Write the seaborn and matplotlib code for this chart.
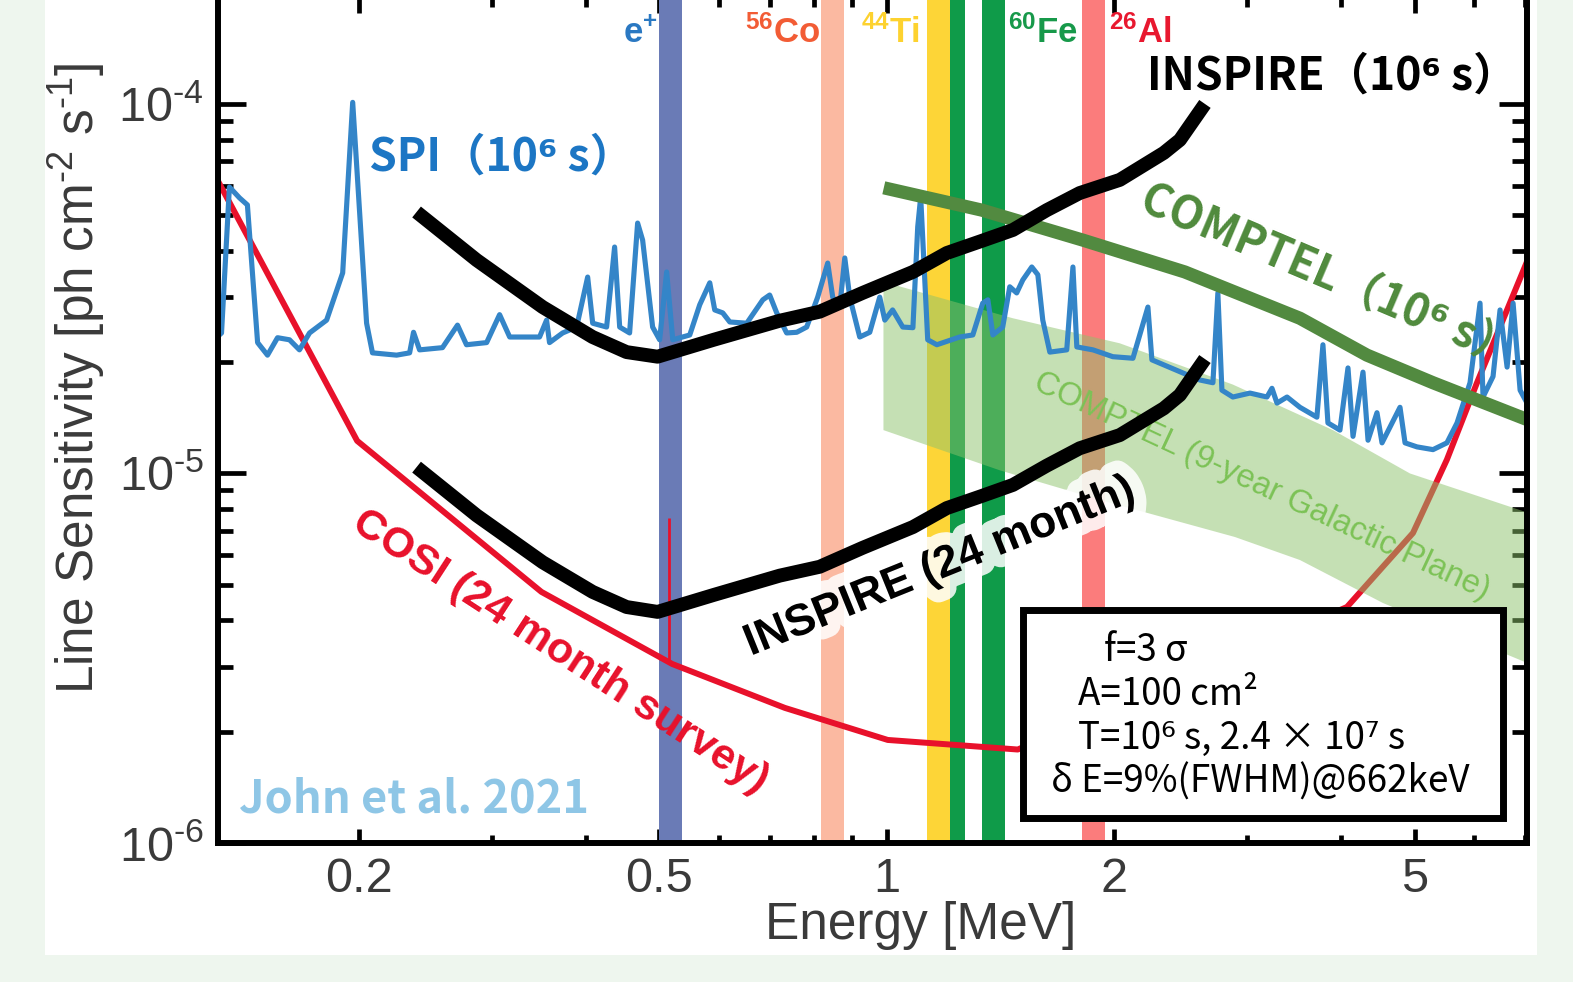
import numpy as np
import pandas as pd
import seaborn as sns
import matplotlib.pyplot as plt
import matplotlib.patheffects as pe
from matplotlib.patches import Rectangle
from matplotlib.ticker import FixedLocator, LogLocator, NullFormatter, FuncFormatter

# ---------------------------------------------------------------
# data: energy [MeV], line sensitivity [ph cm^-2 s^-1]
# ---------------------------------------------------------------
spi_energy = [
    0.1296, 0.1316, 0.1348, 0.139, 0.1424, 0.1469, 0.1514, 0.1561, 0.1619, 0.1669,
    0.1721, 0.1813, 0.1904, 0.1963, 0.2048, 0.2085, 0.2244, 0.2335, 0.2363, 0.2407,
    0.2581, 0.2702, 0.2777, 0.2953, 0.3072, 0.3168, 0.347, 0.3545, 0.3577, 0.3723,
    0.3885, 0.4018, 0.408, 0.4257, 0.4362, 0.443, 0.4566, 0.4679, 0.4751, 0.4898,
    0.5004, 0.5112, 0.5208, 0.5369, 0.5485, 0.5654, 0.583, 0.5919, 0.6065, 0.6197,
    0.6526, 0.6853, 0.6998, 0.715, 0.737, 0.76, 0.7834, 0.8101, 0.8353, 0.8481,
    0.8664, 0.8799, 0.8933, 0.9209, 0.9495, 0.9788, 0.994, 1.018, 1.05, 1.083,
    1.099, 1.109, 1.123, 1.133, 1.165, 1.249, 1.30, 1.34, 1.361, 1.382,
    1.424, 1.455, 1.486, 1.514, 1.556, 1.585, 1.609, 1.644, 1.731, 1.764,
    1.785, 1.875, 1.992, 2.118, 2.217, 2.244, 2.467, 2.598, 2.703, 2.744,
    2.778, 2.872, 3.026, 3.187, 3.236, 3.286, 3.388, 3.524, 3.711, 3.78,
    3.838, 3.981, 4.08, 4.143, 4.271, 4.337, 4.457, 4.526, 4.781, 4.855,
    5.035, 5.287, 5.516, 5.689, 5.919, 6.102, 6.158, 6.349, 6.486, 6.627,
    6.749, 6.895, 7.043]
spi_sens = [
    2.33e-5, 2.40e-5, 5.96e-5, 5.57e-5, 5.33e-5, 2.26e-5, 2.09e-5, 2.33e-5, 2.30e-5, 2.16e-5,
    2.40e-5, 2.60e-5, 3.49e-5, 1.01e-4, 2.55e-5, 2.12e-5, 2.09e-5, 2.12e-5, 2.41e-5, 2.16e-5,
    2.19e-5, 2.52e-5, 2.23e-5, 2.26e-5, 2.69e-5, 2.34e-5, 2.34e-5, 2.60e-5, 2.26e-5, 2.40e-5,
    2.49e-5, 3.40e-5, 2.55e-5, 2.49e-5, 4.10e-5, 2.49e-5, 2.40e-5, 4.76e-5, 4.28e-5, 2.49e-5,
    2.30e-5, 3.51e-5, 2.30e-5, 2.34e-5, 2.37e-5, 2.86e-5, 3.28e-5, 2.77e-5, 2.72e-5, 2.57e-5,
    2.55e-5, 2.95e-5, 3.04e-5, 2.72e-5, 2.40e-5, 2.41e-5, 2.49e-5, 3.00e-5, 3.71e-5, 3.00e-5,
    2.82e-5, 3.83e-5, 3.00e-5, 2.34e-5, 2.41e-5, 3.00e-5, 2.60e-5, 2.77e-5, 2.49e-5, 2.48e-5,
    4.65e-5, 5.60e-5, 3.34e-5, 2.30e-5, 2.23e-5, 2.34e-5, 2.37e-5, 2.89e-5, 2.95e-5, 2.37e-5,
    2.49e-5, 3.20e-5, 3.08e-5, 3.34e-5, 3.62e-5, 3.45e-5, 2.60e-5, 2.13e-5, 2.16e-5, 3.62e-5,
    2.20e-5, 2.16e-5, 2.07e-5, 2.05e-5, 2.82e-5, 2.03e-5, 1.87e-5, 1.79e-5, 1.76e-5, 3.08e-5,
    1.68e-5, 1.61e-5, 1.65e-5, 1.61e-5, 1.70e-5, 1.55e-5, 1.61e-5, 1.51e-5, 1.42e-5, 2.23e-5,
    1.37e-5, 1.31e-5, 1.93e-5, 1.26e-5, 1.88e-5, 1.23e-5, 1.46e-5, 1.21e-5, 1.51e-5, 1.21e-5,
    1.18e-5, 1.16e-5, 1.21e-5, 1.37e-5, 1.76e-5, 2.89e-5, 1.61e-5, 1.83e-5, 2.77e-5, 1.94e-5,
    2.89e-5, 1.68e-5, 1.55e-5]

cosi_energy = [0.128, 0.199, 0.349, 0.52, 0.733, 1.003, 1.491, 4.067, 4.974, 5.516, 6.046, 7.10]
cosi_sens = [6.6e-5, 1.225e-5, 4.78e-6, 3.05e-6, 2.32e-6, 1.90e-6, 1.79e-6,
             4.35e-6, 6.90e-6, 1.09e-5, 1.76e-5, 3.9e-5]
cosi_511_energy = 0.515
cosi_511_range = [3.05e-6, 7.58e-6]

inspire_energy = [0.2385, 0.2864, 0.3503, 0.4079, 0.4524, 0.4972, 0.590, 0.7216, 0.815, 0.929,
                  1.083, 1.201, 1.336, 1.469, 1.629, 1.801, 2.035, 2.327, 2.444, 2.638]
inspire_1e6s = [5.10e-5, 3.78e-5, 2.82e-5, 2.34e-5, 2.13e-5, 2.07e-5, 2.30e-5, 2.59e-5, 2.74e-5, 3.08e-5,
                3.51e-5, 3.95e-5, 4.26e-5, 4.56e-5, 5.16e-5, 5.74e-5, 6.23e-5, 7.37e-5, 7.99e-5, 1.0e-4]
inspire_24mo = [1.04e-5, 7.7e-6, 5.75e-6, 4.78e-6, 4.35e-6, 4.22e-6, 4.69e-6, 5.29e-6, 5.59e-6, 6.29e-6,
                7.16e-6, 8.06e-6, 8.69e-6, 9.31e-6, 1.05e-5, 1.17e-5, 1.27e-5, 1.50e-5, 1.63e-5, 2.04e-5]

comptel_energy = [0.991, 1.336, 1.818, 2.481, 3.524, 4.323, 5.287, 7.10]
comptel_sens = [5.93e-5, 5.16e-5, 4.28e-5, 3.51e-5, 2.63e-5, 2.09e-5, 1.76e-5, 1.39e-5]

gp_top_energy = [0.99, 1.469, 2.035, 2.872, 3.897, 4.928, 7.10]
gp_top_sens = [3.30e-5, 2.63e-5, 2.25e-5, 1.74e-5, 1.31e-5, 1.00e-5, 7.8e-6]
gp_bot_energy = [0.99, 1.411, 1.915, 2.890, 3.524, 4.539, 7.10]
gp_bot_sens = [1.31e-5, 1.02e-5, 8.48e-6, 6.73e-6, 5.83e-6, 4.46e-6, 3.05e-6]

line_names = ['e$^{\\mathdefault{+}}$', '$^{\\mathdefault{56}}$Co', '$^{\\mathdefault{44}}$Ti',
              '$^{\\mathdefault{60}}$Fe', '$^{\\mathdefault{26}}$Al']
line_lo = [0.500, 0.818, 1.130, 1.212, 1.336, 1.813]
line_hi = [0.535, 0.877, 1.212, 1.268, 1.433, 1.944]
line_colors = ['#6a7bb6', '#fbb9a1', '#fdd537', '#0f9b49', '#0f9b49', '#fb7c7c']

x_major = [0.2, 0.5, 1, 2, 5]

# ---------------------------------------------------------------
# style
# ---------------------------------------------------------------
sns.set_theme(style='ticks')
plt.rcParams['font.family'] = ['Liberation Sans', 'DejaVu Sans']
plt.rcParams['mathtext.fontset'] = 'custom'
plt.rcParams['mathtext.rm'] = 'Liberation Sans'
plt.rcParams['mathtext.it'] = 'Liberation Sans:italic'
plt.rcParams['mathtext.bf'] = 'Liberation Sans:bold'
plt.rcParams['axes.unicode_minus'] = False

CJK = ['Noto Sans CJK JP', 'DejaVu Sans']
ARIAL = ['Liberation Sans', 'DejaVu Sans']
GREY = '#3a3a3a'
HY = '\u2010'  # short hyphen as used in the original exponents

fig = plt.figure(figsize=(15.73, 9.82), dpi=100, facecolor='#eef6ee')
fig.patches.append(Rectangle((0.0286, 0.0275), 0.9485, 0.98, transform=fig.transFigure,
                             facecolor='white', edgecolor='none', zorder=-5))
ax = fig.add_axes([0.1386, 0.1416, 0.8322, 0.8595])
ax.set_zorder(2)
ax.set_xscale('log')
ax.set_yscale('log')
ax.set_facecolor('white')

# isotope line bands
for lo, hi, c in zip(line_lo, line_hi, line_colors):
    ax.axvspan(lo, hi, color=c, lw=0, zorder=1)

# COSI
sns.lineplot(x=cosi_energy, y=cosi_sens, ax=ax, color='#e8112b', linewidth=4.3,
             estimator=None, sort=False, zorder=2, solid_joinstyle='round')
ax.vlines(cosi_511_energy, cosi_511_range[0], cosi_511_range[1], color='#e8112b', lw=2.0, zorder=2)

# COMPTEL galactic plane band
ax.fill(list(gp_top_energy) + list(gp_bot_energy[::-1]),
        list(gp_top_sens) + list(gp_bot_sens[::-1]),
        color='#8cc26b', alpha=0.5, lw=0, zorder=3)

# SPI
sns.lineplot(x=spi_energy, y=spi_sens, ax=ax, color='#3485c8', linewidth=3.7,
             estimator=None, sort=False, zorder=4, solid_joinstyle='round')

# COMPTEL 1e6 s
sns.lineplot(x=comptel_energy, y=comptel_sens, ax=ax, color='#528a40', linewidth=9.5,
             estimator=None, sort=False, zorder=5, solid_capstyle='butt', solid_joinstyle='round')

# INSPIRE
for sens in (inspire_1e6s, inspire_24mo):
    sns.lineplot(x=inspire_energy, y=sens, ax=ax, color='black', linewidth=10,
                 estimator=None, sort=False, zorder=6, solid_capstyle='butt', solid_joinstyle='round')

ax.set_xlim(0.1302, 7.043)
ax.set_ylim(1.0e-6, 1.924e-4)

# axes / ticks
for s in ax.spines.values():
    s.set_linewidth(4.3)
    s.set_color('black')
    s.set_zorder(10)
ax.xaxis.set_major_locator(FixedLocator(x_major))
ax.xaxis.set_major_formatter(FuncFormatter(lambda v, p: f'{v:g}'))
ax.xaxis.set_minor_locator(LogLocator(base=10, subs=np.arange(2, 10)))
ax.xaxis.set_minor_formatter(NullFormatter())
ax.yaxis.set_major_formatter(FuncFormatter(
    lambda v, p: '10$^{\\mathdefault{' + HY + str(int(round(-np.log10(v)))) + '}}$'))
ax.yaxis.set_minor_formatter(NullFormatter())
ax.tick_params(which='both', direction='in', top=True, right=True, width=3.4,
               color='black', labelcolor=GREY, labelsize=35)
ax.tick_params(axis='x', which='major', length=10, pad=10)
ax.tick_params(axis='x', which='minor', length=6)
ax.tick_params(axis='y', which='major', length=20, pad=10)
ax.tick_params(axis='y', which='minor', length=11)

ax.set_xlabel('Energy [MeV]', fontsize=37, color=GREY, va='center')
ax.xaxis.set_label_coords(0.537, -0.098)
ax.set_ylabel('Line Sensitivity [ph cm$^{\\mathdefault{' + HY + '2}}$ s$^{\\mathdefault{' + HY + '1}}$]',
              fontsize=37, color=GREY, va='center')
ax.yaxis.set_label_coords(-0.108, 0.55)

# isotope labels
iso_x = [0.3224, 0.4316, 0.5134, 0.6303, 0.7044]
iso_c = ['#2a78c2', '#f25c35', '#fdd22f', '#17994a', '#e8182f']
for name, xx, c in zip(line_names, iso_x, iso_c):
    ax.text(xx, 0.9597, name, transform=ax.transAxes, ha='center', va='center',
            fontsize=25, fontweight='bold', color=c, family=ARIAL, zorder=9)

# curve labels
ax.text(0.2165, 0.8116, 'SPI（10⁶ s）', transform=ax.transAxes, ha='center', va='center',
        fontsize=32, fontweight='bold', color='#1c76c4', family=CJK, zorder=9)
ax.text(0.851, 0.9076, 'INSPIRE（10⁶ s）', transform=ax.transAxes, ha='center', va='center',
        fontsize=32, fontweight='bold', color='black', family=CJK, zorder=9)
ax.text(0.849, 0.672, 'COMPTEL（10⁶ s）', transform=ax.transAxes, ha='center', va='center',
        rotation=-23, rotation_mode='anchor',
        fontsize=32, fontweight='bold', color='#4f8a3c', family=CJK, zorder=9)
ax.text(0.7976, 0.4218, 'COMPTEL (9-year Galactic Plane)', transform=ax.transAxes,
        ha='center', va='center', rotation=-25, rotation_mode='anchor',
        fontsize=23.5, color='#7cc256', family=ARIAL, zorder=3.5)
ax.text(0.5516, 0.327, 'INSPIRE (24 month)', transform=ax.transAxes, ha='center', va='center',
        rotation=22, rotation_mode='anchor', fontsize=32, fontweight='bold',
        color='black', family=ARIAL, zorder=7,
        path_effects=[pe.withStroke(linewidth=18, foreground='white', alpha=0.85)])
ax.text(0.2613, 0.2263, 'COSI (24 month survey)', transform=ax.transAxes, ha='center', va='center',
        rotation=-33, rotation_mode='anchor', fontsize=31, fontweight='bold',
        color='#e8112b', family=ARIAL, zorder=9)
ax.text(0.1497, 0.051, 'John et al. 2021', transform=ax.transAxes, ha='center', va='center',
        fontsize=32.5, fontweight='bold', color='#8ec6e6', family=CJK, zorder=9)

# parameter box
ax.add_patch(Rectangle((0.615, 0.0296), 0.3667, 0.2465, transform=ax.transAxes,
                       facecolor='white', edgecolor='black', lw=5, zorder=8))
box_lines = [(0.6769, 0.2275, 'f=3 σ'),
             (0.657, 0.1754, 'A=100 cm²'),
             (0.657, 0.1244, 'T=10⁶ s, 2.4 × 10⁷ s'),
             (0.6364, 0.0723, 'δ E=9%(FWHM)@662keV')]
for bx, by, t in box_lines:
    ax.text(bx, by, t, transform=ax.transAxes, ha='left', va='center',
            fontsize=26.5, color='black', family=CJK, zorder=9)

fig.savefig('out.png', dpi=100, facecolor=fig.get_facecolor())
